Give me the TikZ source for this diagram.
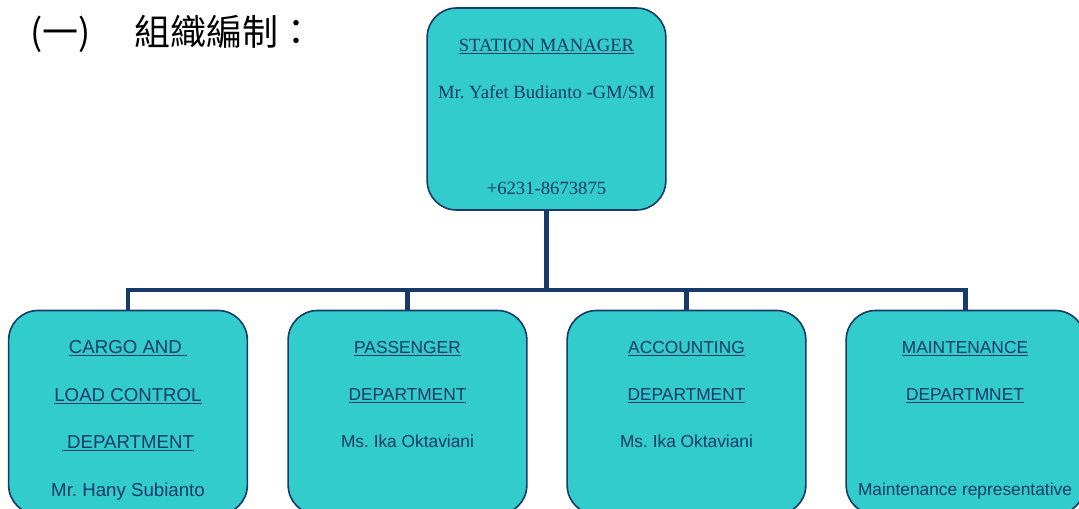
\documentclass[tikz,border=0pt]{standalone}
\usepackage{fontspec}
\setmainfont{Liberation Serif}
\setsansfont{Liberation Sans}
\newfontfamily\cjk{Noto Sans CJK TC}
\usetikzlibrary{positioning}
\definecolor{boxfill}{RGB}{51,204,204}
\definecolor{boxline}{RGB}{22,58,105}
\frenchspacing

\begin{document}
\begin{tikzpicture}[
    x=0.75pt, y=-0.75pt,
    % Box styles
    orgbox/.style={rectangle, rounded corners=22pt, draw=boxline, line width=1.2pt, fill=boxfill, minimum width=179pt, minimum height=153pt, inner sep=0pt},
    % Text styles
    toptext/.style={anchor=base, inner sep=0pt, text=boxline, font=\fontsize{14}{16}\selectfont},
    depttext/.style={anchor=base, inner sep=0pt, text=boxline, font=\sffamily\fontsize{13}{15}\selectfont},
    % Connector style
    link/.style={draw=boxline, line width=3.6pt}
]
    \useasboundingbox (0,0) rectangle (1079,508);
    \clip (0,0) rectangle (1079,508);

    % === TITLE ===
    \node[anchor=west, inner sep=0pt, font=\cjk\fontsize{27}{30}\selectfont] (title) at (30,34) {(一)\hspace{33pt}組織編制：};

    % === STATION MANAGER ===
    \node[orgbox, minimum width=179pt, minimum height=151.5pt] (sm) at (546.5,109) {};
    \node[toptext] (smtitle) at (546.5,51) {\underline{STATION MANAGER}};
    \node[toptext] (smname) at (546.5,98) {Mr. Yafet Budianto -GM/SM};
    \node[toptext] (smphone) at (546.5,194) {+6231-8673875};

    % === DEPARTMENTS ===
    \node[orgbox] (cargo) at (128,412.5) {};
    \node[orgbox] (pass) at (407.5,412.5) {};
    \node[orgbox] (acct) at (686.5,412.5) {};
    \node[orgbox] (maint) at (965.5,412.5) {};

    % Cargo and load control
    \node[depttext, font=\sffamily\fontsize{14}{16}\selectfont] (cargo1) at (128,353) {\underline{CARGO AND }};
    \node[depttext, font=\sffamily\fontsize{14}{16}\selectfont] (cargo2) at (128,401) {\underline{LOAD CONTROL}};
    \node[depttext, font=\sffamily\fontsize{14}{16}\selectfont] (cargo3) at (128,448) {\underline{ DEPARTMENT}};
    \node[depttext, font=\sffamily\fontsize{14}{16}\selectfont] (cargo4) at (128,496) {Mr. Hany Subianto};

    % Passenger
    \node[depttext] (pass1) at (407.5,353) {\underline{PASSENGER}};
    \node[depttext] (pass2) at (407.5,400) {\underline{DEPARTMENT}};
    \node[depttext] (pass3) at (407.5,447) {Ms. Ika Oktaviani};

    % Accounting
    \node[depttext] (acct1) at (686.5,353) {\underline{ACCOUNTING}};
    \node[depttext] (acct2) at (686.5,400) {\underline{DEPARTMENT}};
    \node[depttext] (acct3) at (686.5,447) {Ms. Ika Oktaviani};

    % Maintenance
    \node[depttext] (maint1) at (965,353) {\underline{MAINTENANCE}};
    \node[depttext] (maint2) at (965,400) {\underline{DEPARTMNET}};
    \node[depttext] (maint3) at (965,495) {Maintenance representative};

    % === CONNECTORS ===
    \coordinate (bus) at (546.5,290);
    \draw[link] (sm.south) -- (bus);
    \foreach \d in {cargo, pass, acct, maint}
        \draw[link] (bus) -| (\d.north);

\end{tikzpicture}
\end{document}
